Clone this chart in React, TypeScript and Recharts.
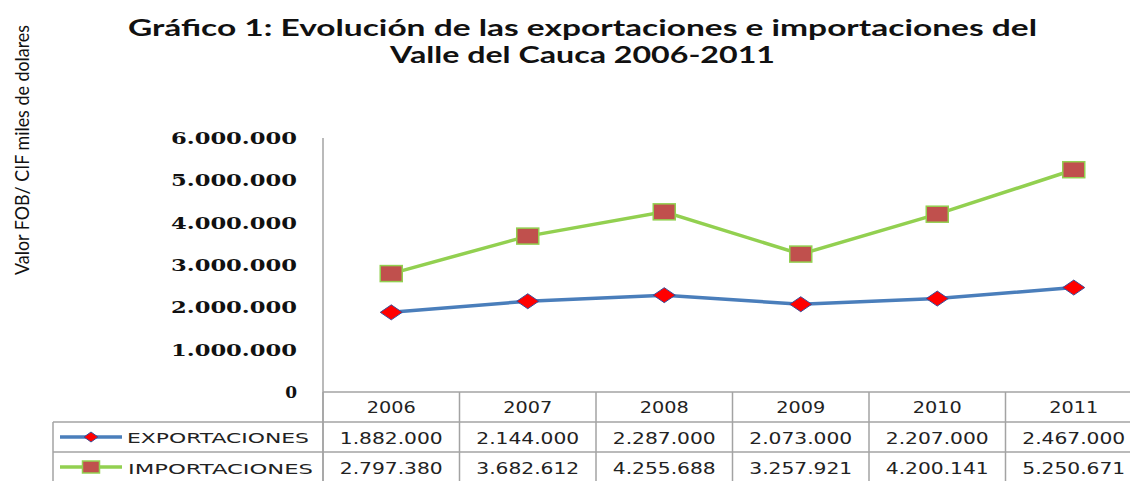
import React from 'react';
import { LineChart, Line, XAxis, YAxis } from 'recharts';

const years = ['2006', '2007', '2008', '2009', '2010', '2011'];
const exportaciones = [1882000, 2144000, 2287000, 2073000, 2207000, 2467000];
const importaciones = [2797380, 3682612, 4255688, 3257921, 4200141, 5250671];
const yTicks = [0, 1000000, 2000000, 3000000, 4000000, 5000000, 6000000];
const seriesNames = ['EXPORTACIONES', 'IMPORTACIONES'];
const titleLines = [
  'Gráfico 1: Evolución de las exportaciones e importaciones del',
  'Valle del Cauca 2006-2011',
];
const yLabel = 'Valor FOB/ CIF miles de dolares';

const data = years.map((y, i) => ({ year: y, exp: exportaciones[i], imp: importaciones[i] }));

const fmt = (n: number) => String(n).replace(/\B(?=(\d{3})+(?!\d))/g, '.');

const GRID = '#a3a3a3';
const BLUE = '#4a7ebb';
const GREEN = '#92d050';
const COL = 136.5;
const TABLE_FONT = 'DejaVu Sans, Verdana, sans-serif';

const Diamond = (props: any) => {
  const { cx, cy, w = 22, h = 15 } = props;
  if (cx == null || cy == null) return null;
  const pts = `${cx - w / 2},${cy} ${cx},${cy - h / 2} ${cx + w / 2},${cy} ${cx},${cy + h / 2}`;
  return <polygon points={pts} fill="#ff0000" stroke="#3a4f9a" strokeWidth={1} />;
};

const Square = (props: any) => {
  const { cx, cy, w = 22, h = 16 } = props;
  if (cx == null || cy == null) return null;
  return <rect x={cx - w / 2} y={cy - h / 2} width={w} height={h} fill="#c0504d" stroke={GREEN} strokeWidth={1.5} />;
};

const YTick = (props: any) => {
  const { y, payload } = props;
  const label = fmt(payload.value);
  const long = label.length > 1;
  return (
    <text
      x={297}
      y={y + 6}
      textAnchor="end"
      fontFamily="DejaVu Serif, serif"
      fontWeight="bold"
      fontSize={17}
      fill="#111"
      {...(long ? { textLength: 126, lengthAdjust: 'spacingAndGlyphs' } : {})}
    >
      {label}
    </text>
  );
};

const XTick = (props: any) => {
  const { x, index } = props;
  const i = index ?? props.payload?.index ?? 0;
  return (
    <g>
      {i === 0 && <line x1={x - COL / 2} y1={392} x2={x - COL / 2} y2={481} stroke={GRID} strokeWidth={1.5} />}
      <line x1={x + COL / 2} y1={392} x2={x + COL / 2} y2={481} stroke={GRID} strokeWidth={1.5} />
      <text x={x} y={413} textAnchor="middle" fontFamily={TABLE_FONT} fontSize={15} fill="#222" textLength={49} lengthAdjust="spacingAndGlyphs">
        {years[i]}
      </text>
      <text x={x} y={444} textAnchor="middle" fontFamily={TABLE_FONT} fontSize={15} fill="#222" textLength={103} lengthAdjust="spacingAndGlyphs">
        {fmt(exportaciones[i])}
      </text>
      <text x={x} y={474} textAnchor="middle" fontFamily={TABLE_FONT} fontSize={15} fill="#222" textLength={103} lengthAdjust="spacingAndGlyphs">
        {fmt(importaciones[i])}
      </text>
    </g>
  );
};

export default function App() {
  return (
    <div style={{ position: 'absolute', left: 0, top: 0, width: 1130, height: 481, overflow: 'hidden', background: '#fff' }}>
      <LineChart
        width={1150}
        height={481}
        data={data}
        margin={{ top: 138, right: 8, bottom: 0, left: 0 }}
      >
        <XAxis
          dataKey="year"
          height={89}
          interval={0}
          padding={{ left: COL / 2, right: COL / 2 }}
          tickLine={false}
          axisLine={{ stroke: GRID, strokeWidth: 1.5 }}
          tick={<XTick />}
        />
        <YAxis
          width={323}
          domain={[0, 6000000]}
          ticks={yTicks}
          interval={0}
          tickLine={false}
          axisLine={{ stroke: GRID, strokeWidth: 1.5 }}
          tick={<YTick />}
        />
        <Line
          dataKey="imp"
          name={seriesNames[1]}
          type="linear"
          stroke={GREEN}
          strokeWidth={3.5}
          dot={<Square />}
          activeDot={false}
          isAnimationActive={false}
        />
        <Line
          dataKey="exp"
          name={seriesNames[0]}
          type="linear"
          stroke={BLUE}
          strokeWidth={3.5}
          dot={<Diamond />}
          activeDot={false}
          isAnimationActive={false}
        />
      </LineChart>
      <svg width={1130} height={481} style={{ position: 'absolute', left: 0, top: 0, pointerEvents: 'none' }}>
        <text x={582.5} y={36} textAnchor="middle" fontFamily="Lato, sans-serif" fontWeight="bold" fontSize={23.5} fill="#111" textLength={909} lengthAdjust="spacingAndGlyphs">
          {titleLines[0]}
        </text>
        <text x={582.5} y={63} textAnchor="middle" fontFamily="Lato, sans-serif" fontWeight="bold" fontSize={23.5} fill="#111" textLength={385} lengthAdjust="spacingAndGlyphs">
          {titleLines[1]}
        </text>
        <text x={29} y={150} transform="rotate(-90, 29, 150)" textAnchor="middle" fontFamily="Lato, sans-serif" fontSize={19} fill="#111" textLength={250} lengthAdjust="spacingAndGlyphs">
          {yLabel}
        </text>
        <line x1={53} y1={422} x2={1130} y2={422} stroke={GRID} strokeWidth={1.5} />
        <line x1={53} y1={452} x2={1130} y2={452} stroke={GRID} strokeWidth={1.5} />
        <line x1={53} y1={422} x2={53} y2={481} stroke={GRID} strokeWidth={1.5} />
        <line x1={323} y1={392} x2={323} y2={481} stroke={GRID} strokeWidth={1.5} />
        <line x1={60} y1={437} x2={122} y2={437} stroke={BLUE} strokeWidth={3.5} />
        <Diamond cx={91} cy={437} w={14} h={10} />
        <text x={127} y={443} fontFamily={TABLE_FONT} fontSize={14} fill="#222" textLength={182} lengthAdjust="spacingAndGlyphs">
          {seriesNames[0]}
        </text>
        <line x1={60} y1={467} x2={122} y2={467} stroke={GREEN} strokeWidth={3.5} />
        <Square cx={91} cy={467} w={17} h={12} />
        <text x={128} y={474} fontFamily={TABLE_FONT} fontSize={14} fill="#222" textLength={185} lengthAdjust="spacingAndGlyphs">
          {seriesNames[1]}
        </text>
      </svg>
    </div>
  );
}
